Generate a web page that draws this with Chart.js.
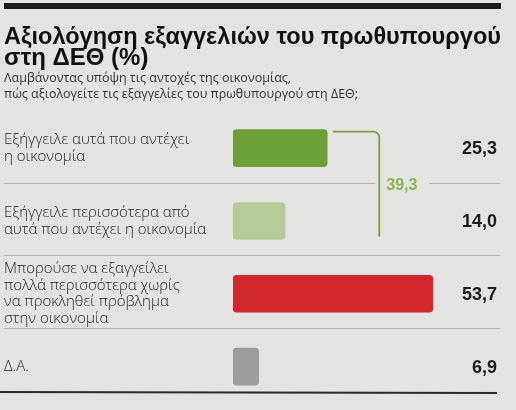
<!DOCTYPE html>
<html lang="el">
<head>
    <meta charset="UTF-8">
    <title>Αξιολόγηση εξαγγελιών του πρωθυπουργού στη ΔΕΘ</title>
    <script src="https://cdn.jsdelivr.net/npm/chart.js"></script>
    <style>
        html, body {
            margin: 0;
            padding: 0;
            background: #e3e3e1;
        }
        canvas {
            display: block;
        }
    </style>
</head>
<body>
    <canvas id="chart" width="516" height="410"></canvas>

    <script>
        // Κείμενα και δεδομένα
        const titleLines = ['Αξιολόγηση εξαγγελιών του πρωθυπουργού', 'στη ΔΕΘ (%)'];
        const subtitleLines = [
            'Λαμβάνοντας υπόψη τις αντοχές της οικονομίας,',
            'πώς αξιολογείτε τις εξαγγελίες του πρωθυπουργού στη ΔΕΘ;'
        ];
        const categories = [
            ['Εξήγγειλε αυτά που αντέχει', 'η οικονομία'],
            ['Εξήγγειλε περισσότερα από', 'αυτά που αντέχει η οικονομία'],
            ['Μπορούσε να εξαγγείλει', 'πολλά περισσότερα χωρίς', 'να προκληθεί πρόβλημα', 'στην οικονομία'],
            ['Δ.Α.']
        ];
        const values = [25.3, 14.0, 53.7, 6.9];
        const barColors = ['#6c9f37', '#b7cb98', '#d3272e', '#9d9d9b'];
        // οι δύο πρώτες απαντήσεις αθροίζονται στην αγκύλη
        const groupedRows = [0, 1];

        const fmt = v => v.toFixed(1).replace('.', ',');

        // φόντο, γραμμές, τιμές και αγκύλη
        const decorPlugin = {
            id: 'decor',
            beforeDraw(chart) {
                const ctx = chart.ctx;
                ctx.save();
                ctx.fillStyle = '#e3e3e1';
                ctx.fillRect(0, 0, chart.width, chart.height);
                ctx.fillStyle = '#1b1b1b';
                ctx.fillRect(4, 3, 497, 6);
                ctx.restore();
            },
            afterDatasetsDraw(chart) {
                const ctx = chart.ctx;
                const bars = chart.getDatasetMeta(0).data;
                const yScale = chart.scales.y;
                const xScale = chart.scales.x;

                const total = groupedRows.reduce((s, i) => s + values[i], 0);
                const bx = xScale.getPixelForValue(total);
                const top = bars[groupedRows[0]];
                const bot = bars[groupedRows[groupedRows.length - 1]];
                const yTop = top.y - top.height / 2 + 2;
                const yBot = bot.y + bot.height / 2 - 3;

                ctx.save();
                // διαχωριστικές γραμμές
                ctx.strokeStyle = 'rgba(140,140,140,0.55)';
                ctx.lineWidth = 1;
                for (let i = 0; i < values.length - 1; i++) {
                    const y = Math.round((yScale.getPixelForValue(i) + yScale.getPixelForValue(i + 1)) / 2) - 1.5;
                    ctx.beginPath();
                    if (i === groupedRows[0]) {
                        ctx.moveTo(4, y); ctx.lineTo(bx - 4, y);
                        ctx.moveTo(bx + 50, y); ctx.lineTo(500, y);
                    } else {
                        ctx.moveTo(4, y); ctx.lineTo(500, y);
                    }
                    ctx.stroke();
                }
                // κάτω γραμμή
                ctx.strokeStyle = '#2a2a2a';
                ctx.lineWidth = 2;
                ctx.beginPath();
                ctx.moveTo(0, 392);
                ctx.lineTo(497, 393);
                ctx.stroke();

                // αγκύλη
                ctx.strokeStyle = '#7f9e3e';
                ctx.lineWidth = 1.8;
                ctx.beginPath();
                ctx.moveTo(top.x + 6, yTop);
                ctx.arcTo(bx, yTop, bx, yTop + 8, 6);
                ctx.lineTo(bx, yBot);
                ctx.stroke();

                ctx.fillStyle = '#8db54f';
                ctx.font = 'bold 16px "Liberation Sans"';
                ctx.textAlign = 'left';
                ctx.textBaseline = 'middle';
                const midY = (yScale.getPixelForValue(groupedRows[0]) + yScale.getPixelForValue(groupedRows[1])) / 2;
                ctx.fillText(fmt(total), bx + 7, midY + 1);

                // τιμές δεξιά
                ctx.fillStyle = '#1c1c1c';
                ctx.font = 'bold 18px "Liberation Sans"';
                ctx.textAlign = 'right';
                bars.forEach((bar, i) => {
                    ctx.fillText(fmt(values[i]), 497, bar.y + 1);
                });
                ctx.restore();
            }
        };

        new Chart(document.getElementById('chart'), {
            type: 'bar',
            data: {
                labels: categories,
                datasets: [{
                    data: values,
                    backgroundColor: barColors,
                    borderRadius: 4,
                    borderSkipped: false,
                    barThickness: 37
                }]
            },
            options: {
                indexAxis: 'y',
                responsive: false,
                animation: false,
                devicePixelRatio: 1,
                layout: {
                    padding: { left: 4, right: 15, top: 27, bottom: 7 }
                },
                scales: {
                    x: {
                        display: false,
                        min: 0,
                        max: 72
                    },
                    y: {
                        grid: { display: false },
                        border: { display: false },
                        ticks: {
                            crossAlign: 'far',
                            padding: 0,
                            color: '#262626',
                            font: { family: '"Open Sans"', size: 15, weight: 300, lineHeight: 1.12 }
                        },
                        afterFit(scale) {
                            scale.width = 229;
                            scale.paddingTop = 0;
                            scale.paddingBottom = 0;
                        }
                    }
                },
                plugins: {
                    legend: { display: false },
                    tooltip: { enabled: false },
                    title: {
                        display: true,
                        text: titleLines,
                        align: 'start',
                        color: '#111111',
                        font: { family: '"Liberation Sans"', size: 24, weight: 'bold', lineHeight: 0.88 },
                        padding: { top: 0, bottom: 0 }
                    },
                    subtitle: {
                        display: true,
                        text: subtitleLines,
                        align: 'start',
                        color: '#353535',
                        font: { family: '"Open Sans"', size: 12.5, lineHeight: 1.3 },
                        padding: { top: 1, bottom: 9 }
                    }
                }
            },
            plugins: [decorPlugin]
        });
    </script>
</body>
</html>
